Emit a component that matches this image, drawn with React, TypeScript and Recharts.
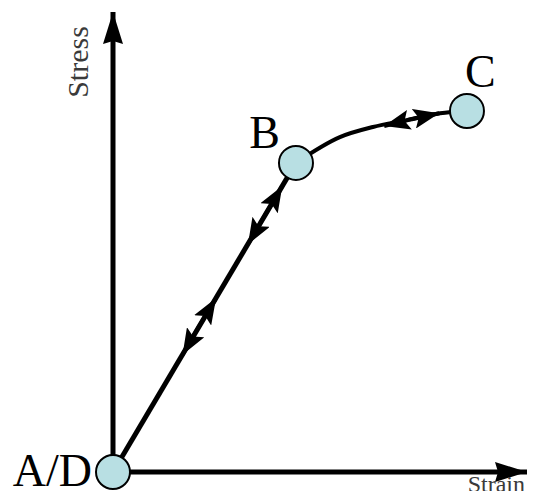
import { ComposedChart, Line, Scatter, XAxis, YAxis, Label } from "recharts";

// loading path A -> B (elastic, straight)
const elasticStrain = [0, 4.42];
const elasticStress = [0, 6.72];

// plastic path B -> C
const plasticStrain = [4.42, 5.48, 6.28, 7.1, 7.9, 8.55];
const plasticStress = [6.72, 7.28, 7.5, 7.65, 7.8, 7.85];

// double arrow heads along the path (back end, middle, front end)
const arrowStrain = [
  [1.68, 2.08, 2.49],
  [3.26, 3.67, 4.09],
  [6.55, 7.22, 7.88],
];
const arrowStress = [
  [2.55, 3.17, 3.78],
  [4.95, 5.58, 6.22],
  [7.52, 7.67, 7.8],
];

// state points
const stateNames = ["A/D", "B", "C"];
const stateStrain = [0, 4.42, 8.55];
const stateStress = [0, 6.72, 7.85];

const toRows = (xs: number[], ys: number[]) =>
  xs.map((strain, i) => ({ strain, stress: ys[i] }));

const elasticData = toRows(elasticStrain, elasticStress);
const plasticData = toRows(plasticStrain, plasticStress);
const arrowData = arrowStrain.map((xs, i) => toRows(xs, arrowStress[i]));
const stateData = stateNames.map((name, i) => ({
  name,
  strain: stateStrain[i],
  stress: stateStress[i],
}));

const labelPlacement: Record<string, { dx: number; dy: number; anchor: "start" | "end" }> = {
  "A/D": { dx: -21, dy: 14, anchor: "end" },
  B: { dx: -16, dy: -15, anchor: "end" },
  C: { dx: -2, dy: -24, anchor: "start" },
};

const SERIF = "'Liberation Serif', 'Times New Roman', serif";

function StateNode(props: any) {
  const { cx, cy, payload } = props;
  const p = labelPlacement[payload.name];
  return (
    <g>
      <circle cx={cx} cy={cy} r={17} fill="#b8dfe3" stroke="#000" strokeWidth={2} />
      <text
        x={cx + p.dx}
        y={cy + p.dy}
        textAnchor={p.anchor}
        fontFamily={SERIF}
        fontSize={46}
        fill="#000"
      >
        {payload.name}
      </text>
    </g>
  );
}

function ArrowDefs() {
  return (
    <svg width={0} height={0} style={{ position: "absolute" }}>
      <defs>
        <marker
          id="pathHead"
          markerUnits="userSpaceOnUse"
          markerWidth={26}
          markerHeight={20}
          viewBox="0 0 26 20"
          refX={26}
          refY={10}
          orient="auto-start-reverse"
        >
          <path d="M0,0 L26,10 L0,20 L5,10 Z" fill="#000" />
        </marker>
        <marker
          id="axisHead"
          markerUnits="userSpaceOnUse"
          markerWidth={32}
          markerHeight={20}
          viewBox="0 0 32 20"
          refX={32}
          refY={10}
          orient="auto-start-reverse"
        >
          <path d="M0,0 L32,10 L0,20 L3,10 Z" fill="#000" />
        </marker>
      </defs>
    </svg>
  );
}

export default function App() {
  return (
    <div style={{ position: "relative", width: 549, height: 499, margin: -8 }}>
      <ArrowDefs />
      <ComposedChart width={549} height={499} margin={{ top: 12, right: 22, bottom: 7, left: 93 }}>
        <XAxis
          type="number"
          dataKey="strain"
          domain={[0, 10]}
          height={20}
          tick={false}
          tickLine={false}
          axisLine={{ stroke: "#000", strokeWidth: 5, markerEnd: "url(#axisHead)" } as any}
        >
          <Label
            content={(p: any) => (
              <text
                x={p.viewBox.x + p.viewBox.width - 2}
                y={p.viewBox.y + 20}
                textAnchor="end"
                fontFamily={SERIF}
                fontSize={24}
                fill="#3a3a3a"
              >
                Strain
              </text>
            )}
          />
        </XAxis>
        <YAxis
          type="number"
          dataKey="stress"
          domain={[0, 10]}
          width={20}
          tick={false}
          tickLine={false}
          axisLine={{ stroke: "#000", strokeWidth: 5, markerStart: "url(#axisHead)" } as any}
        >
          <Label
            content={(p: any) => {
              const x = p.viewBox.x + p.viewBox.width - 25;
              const y = p.viewBox.y + 50;
              return (
                <text
                  x={x}
                  y={y}
                  transform={`rotate(-90, ${x}, ${y})`}
                  textAnchor="middle"
                  fontFamily={SERIF}
                  fontSize={30}
                  fill="#3a3a3a"
                >
                  Stress
                </text>
              );
            }}
          />
        </YAxis>
        <Line
          data={elasticData}
          dataKey="stress"
          type="linear"
          stroke="#000"
          strokeWidth={5}
          dot={false}
          activeDot={false}
          isAnimationActive={false}
        />
        <Line
          data={plasticData}
          dataKey="stress"
          type="monotone"
          stroke="#000"
          strokeWidth={4}
          dot={false}
          activeDot={false}
          isAnimationActive={false}
        />
        {arrowData.map((d, i) => (
          <Line
            key={i}
            data={d}
            dataKey="stress"
            type="linear"
            stroke="#000"
            strokeWidth={4}
            dot={false}
            activeDot={false}
            markerStart="url(#pathHead)"
            markerEnd="url(#pathHead)"
            isAnimationActive={false}
          />
        ))}
        <Scatter
          data={stateData}
          dataKey="stress"
          shape={(p: any) => <StateNode {...p} />}
          isAnimationActive={false}
        />
      </ComposedChart>
    </div>
  );
}
